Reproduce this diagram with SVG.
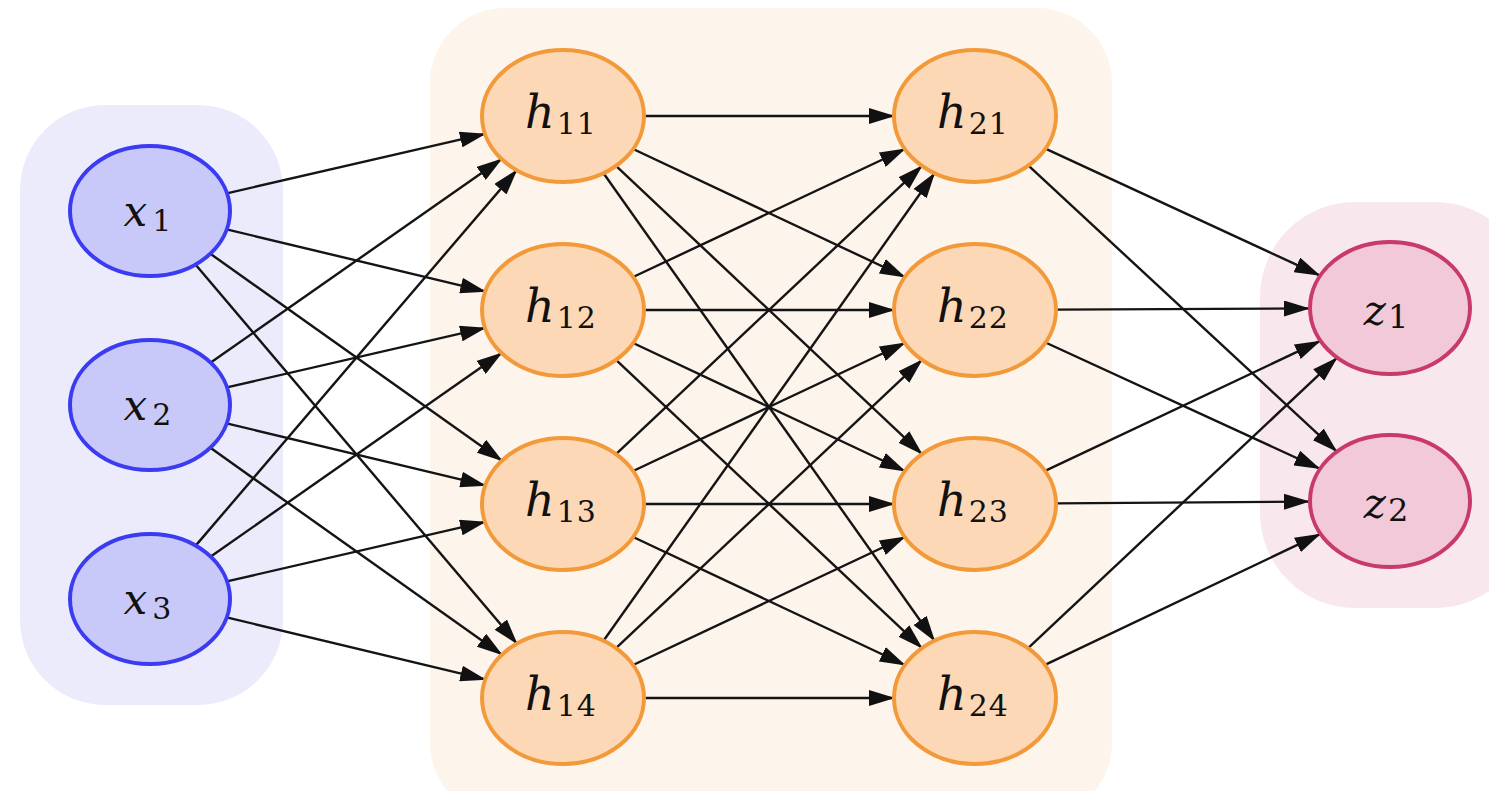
<svg xmlns="http://www.w3.org/2000/svg" width="1489" height="791" viewBox="0 0 1489 791">
<defs>
<marker id="arr" viewBox="0 0 26 16" refX="25" refY="8" markerWidth="26" markerHeight="16" markerUnits="userSpaceOnUse" orient="auto">
<path d="M0,0 L26,8 L0,16 z" fill="#111"/>
</marker>
<style>
.e{stroke:#141414;stroke-width:2.4;fill:none;marker-end:url(#arr)}
.nx{fill:#c9c9f9;stroke:#3b3bf2;stroke-width:4}
.nh{fill:#fdd8b6;stroke:#f29a3a;stroke-width:4}
.nz{fill:#f1c9d9;stroke:#c93a6c;stroke-width:4}
text{font-family:"DejaVu Serif","Liberation Serif",serif;fill:#111;text-anchor:middle}
.m{font-style:italic;font-size:46px}
.mx{font-style:italic;font-size:42px}
.mz{font-style:italic;font-size:42px}
.s{font-style:normal;font-size:30px;letter-spacing:1px}
.sz{font-style:normal;font-size:32px}
</style>
</defs>
<rect width="1489" height="791" fill="#ffffff"/>
<g id="backgrounds">
<rect x="20" y="105" width="263" height="600" rx="85" fill="#ebebfb"/>
<rect x="430" y="8" width="682" height="810" rx="75" fill="#fdf4ec"/>
<rect x="1260" y="202" width="270" height="406" rx="95" fill="#f9e7ee"/>
</g>
<g id="connectors">
<line class="e" x1="227.9" y1="193.1" x2="485" y2="133.9"/>
<line class="e" x1="227.7" y1="229.6" x2="485.3" y2="291.4"/>
<line class="e" x1="211.1" y1="254.3" x2="501.9" y2="460.7"/>
<line class="e" x1="196.1" y1="265.3" x2="517" y2="643.7"/>
<line class="e" x1="211.5" y1="362" x2="501.6" y2="159"/>
<line class="e" x1="228" y1="387.1" x2="485.1" y2="327.9"/>
<line class="e" x1="227.7" y1="423.6" x2="485.3" y2="485.4"/>
<line class="e" x1="211.1" y1="448.3" x2="501.9" y2="654.7"/>
<line class="e" x1="196.3" y1="544.9" x2="516.7" y2="170.2"/>
<line class="e" x1="211.5" y1="556" x2="501.6" y2="353"/>
<line class="e" x1="228" y1="581.1" x2="485.1" y2="521.9"/>
<line class="e" x1="227.7" y1="617.6" x2="485.3" y2="679.4"/>

<line class="e" x1="644" y1="116" x2="894" y2="116"/>
<line class="e" x1="633.1" y1="149" x2="904.9" y2="277"/>
<line class="e" x1="616" y1="165.9" x2="922" y2="454.1"/>
<line class="e" x1="603.5" y1="173.2" x2="934.5" y2="640.8"/>
<line class="e" x1="633.1" y1="277" x2="904.9" y2="149"/>
<line class="e" x1="644" y1="310" x2="894" y2="310"/>
<line class="e" x1="633.1" y1="343" x2="904.9" y2="471"/>
<line class="e" x1="616" y1="359.9" x2="922" y2="648.1"/>
<line class="e" x1="616" y1="454.1" x2="922" y2="165.9"/>
<line class="e" x1="633.1" y1="471" x2="904.9" y2="343"/>
<line class="e" x1="644" y1="504" x2="894" y2="504"/>
<line class="e" x1="633.1" y1="537" x2="904.9" y2="665"/>
<line class="e" x1="603.5" y1="640.8" x2="934.5" y2="173.2"/>
<line class="e" x1="616" y1="648.1" x2="922" y2="359.9"/>
<line class="e" x1="633.1" y1="665" x2="904.9" y2="537"/>
<line class="e" x1="644" y1="698" x2="894" y2="698"/>

<line class="e" x1="1045.4" y1="148.6" x2="1319.6" y2="275.4"/>
<line class="e" x1="1028.5" y1="165.6" x2="1336.6" y2="451.4"/>
<line class="e" x1="1056" y1="309.6" x2="1309" y2="308.4"/>
<line class="e" x1="1045.5" y1="342.5" x2="1319.5" y2="468.5"/>
<line class="e" x1="1045.1" y1="470.9" x2="1319.9" y2="341.1"/>
<line class="e" x1="1056" y1="503.4" x2="1309" y2="501.6"/>
<line class="e" x1="1028.1" y1="648.1" x2="1336.9" y2="357.9"/>
<line class="e" x1="1045" y1="664.8" x2="1320" y2="534.2"/>
</g>
<g id="x1"><ellipse class="nx" cx="150" cy="211" rx="80" ry="65"/><text x="148" y="226"><tspan class="mx">x</tspan><tspan class="s" dx="5" dy="5">1</tspan></text></g>
<g id="x2"><ellipse class="nx" cx="150" cy="405" rx="80" ry="65"/><text x="148" y="420"><tspan class="mx">x</tspan><tspan class="s" dx="5" dy="5">2</tspan></text></g>
<g id="x3"><ellipse class="nx" cx="150" cy="599" rx="80" ry="65"/><text x="148" y="614"><tspan class="mx">x</tspan><tspan class="s" dx="5" dy="5">3</tspan></text></g>

<g id="h11"><ellipse class="nh" cx="563" cy="116" rx="81" ry="66"/><text x="561" y="128"><tspan class="m">h</tspan><tspan class="s" dx="2" dy="6">11</tspan></text></g>
<g id="h12"><ellipse class="nh" cx="563" cy="310" rx="81" ry="66"/><text x="561" y="322"><tspan class="m">h</tspan><tspan class="s" dx="2" dy="6">12</tspan></text></g>
<g id="h13"><ellipse class="nh" cx="563" cy="504" rx="81" ry="66"/><text x="561" y="516"><tspan class="m">h</tspan><tspan class="s" dx="2" dy="6">13</tspan></text></g>
<g id="h14"><ellipse class="nh" cx="563" cy="698" rx="81" ry="66"/><text x="561" y="710"><tspan class="m">h</tspan><tspan class="s" dx="2" dy="6">14</tspan></text></g>

<g id="h21"><ellipse class="nh" cx="975" cy="116" rx="81" ry="66"/><text x="973" y="128"><tspan class="m">h</tspan><tspan class="s" dx="2" dy="6">21</tspan></text></g>
<g id="h22"><ellipse class="nh" cx="975" cy="310" rx="81" ry="66"/><text x="973" y="322"><tspan class="m">h</tspan><tspan class="s" dx="2" dy="6">22</tspan></text></g>
<g id="h23"><ellipse class="nh" cx="975" cy="504" rx="81" ry="66"/><text x="973" y="516"><tspan class="m">h</tspan><tspan class="s" dx="2" dy="6">23</tspan></text></g>
<g id="h24"><ellipse class="nh" cx="975" cy="698" rx="81" ry="66"/><text x="973" y="710"><tspan class="m">h</tspan><tspan class="s" dx="2" dy="6">24</tspan></text></g>

<g id="z1"><ellipse class="nz" cx="1390" cy="308" rx="80" ry="66"/><text x="1386" y="325"><tspan class="mz">z</tspan><tspan class="sz" dx="2" dy="3">1</tspan></text></g>
<g id="z2"><ellipse class="nz" cx="1390" cy="501" rx="80" ry="66"/><text x="1386" y="518"><tspan class="mz">z</tspan><tspan class="sz" dx="2" dy="3">2</tspan></text></g>
</svg>
